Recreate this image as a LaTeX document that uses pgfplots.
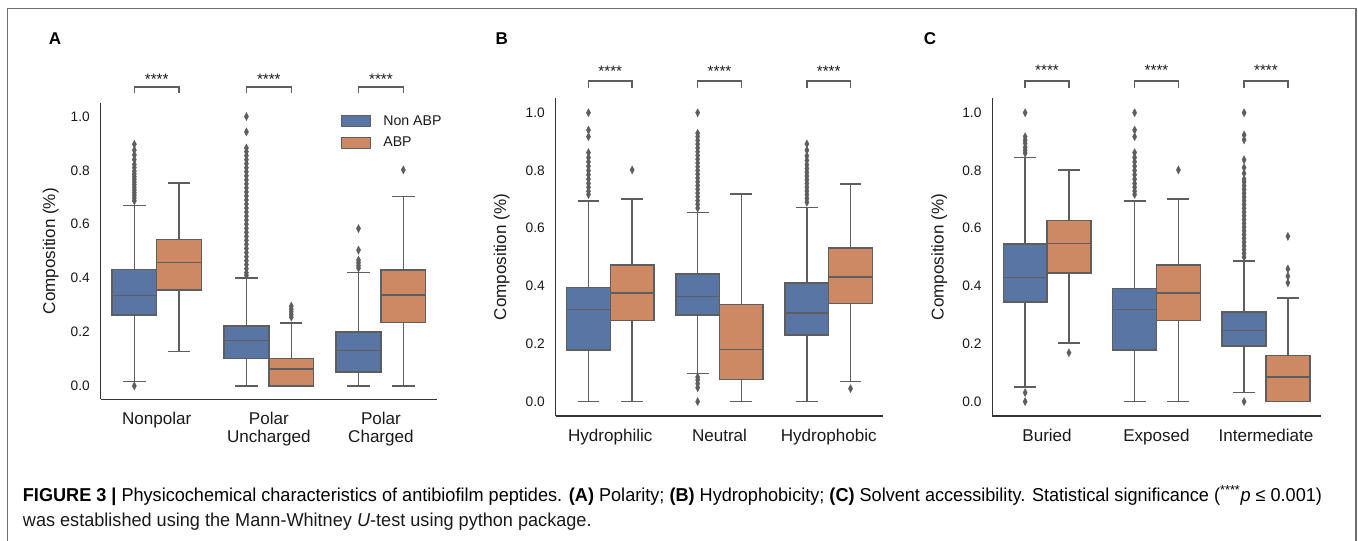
\documentclass[border=0pt]{standalone}
\usepackage{fontspec}
\setmainfont{Liberation Sans}
\usepackage{graphicx}
\usepackage{pgfplots}
\pgfplotsset{compat=1.18}
\usepgfplotslibrary{statistics}
\definecolor{sbblue}{HTML}{5975A4}
\definecolor{sborange}{HTML}{CC8963}
\definecolor{sbgray}{HTML}{5E5E5E}
\definecolor{spine}{HTML}{333333}
\definecolor{txt}{HTML}{1A1A1A}
\definecolor{frame}{HTML}{707070}

\tikzset{
  brk/.style={draw=sbgray, line width=1.1pt},
  stars/.style={font=\fontsize{11.4}{12}\selectfont, text=txt, anchor=base, inner sep=0pt},
}
\pgfplotsset{
  panel/.style={
    scale only axis,
    xmin=-0.5, xmax=2.5, ymin=-0.05, ymax=1.05,
    axis x line*=bottom, axis y line*=left,
    axis line style={-, draw=spine, line width=0.95pt},
    xtick={0,1,2}, ytick={0,0.2,0.4,0.6,0.8,1.0},
    major tick length=0pt,
    tick style={draw=none},
    yticklabel style={font=\fontsize{10.3}{12}\selectfont, text=txt, inner sep=0pt, xshift=-8pt,
       /pgf/number format/fixed, /pgf/number format/fixed zerofill,
       /pgf/number format/precision=1, /pgf/number format/assume math mode=true},
    xticklabel style={font=\fontsize{12.8}{13.7}\selectfont, text=txt, align=center, inner sep=0pt, yshift=-9.3pt},
    ylabel={Composition (\%)},
    ylabel style={font=\fontsize{12.8}{14}\selectfont, text=txt, anchor=center},
    clip=false,
    boxplot/every whisker/.style={draw=sbgray, line width=1.1pt, solid},
    boxplot/every median/.style={draw=sbgray, line width=1.1pt, solid},
    boxplot/every box/.style={draw=sbgray, line width=1.1pt, solid},
  },
  nab/.style={draw=sbgray, fill=sbblue, line width=1.1pt, solid, forget plot,
    mark=diamond*, mark size=3pt, mark options={fill=sbgray, draw=sbgray, xscale=0.7, line width=0.3pt}},
  ab/.style={draw=sbgray, fill=sborange, line width=1.1pt, solid, forget plot,
    mark=diamond*, mark size=3pt, mark options={fill=sbgray, draw=sbgray, xscale=0.7, line width=0.3pt}},
  sb/.style n args={6}{boxplot prepared={draw direction=y, draw position=#1, median=#2, lower quartile=#3,
    upper quartile=#4, lower whisker=#5, upper whisker=#6, box extend=0.4, whisker extend=0.2}},
}

\newsavebox\capone
\newdimen\capw
\begin{document}
\sbox\capone{\fontsize{14}{16}\selectfont\textbf{FIGURE 3 |} Physicochemical characteristics of antibiofilm peptides. \textbf{(A)} Polarity; \textbf{(B)} Hydrophobicity; \textbf{(C)} Solvent accessibility. Statistical significance (\textsuperscript{****}\textit{p} ≤ 0.001)}%
\capw=\wd\capone
\pgfmathsetmacro\capsc{974.25/\capw}%
\begin{tikzpicture}
\useasboundingbox (0pt,0pt) rectangle (1018.5pt,-405pt);
\draw[frame, line width=1.1pt] (5.5pt,-406pt) -- (5.5pt,-6.4pt) -- (1017pt,-6.4pt) -- (1017pt,-406pt);

% ---------------- Panel A ----------------
\begin{axis}[panel, at={(75.53pt,-299.48pt)}, anchor=south west, width=252.2pt, height=222.2pt,
  xticklabels={Nonpolar, Polar\\Uncharged, Polar\\Charged},
  ylabel style={at={(axis description cs:-0.1487,0.5)}},
  legend image code/.code={\draw[#1] (0pt,-4.1pt) rectangle (22pt,4.1pt);},
  legend style={at={(axis description cs:0.7137,0.9595)}, anchor=north west, draw=none, fill=none,
    inner sep=0pt, row sep=7.2pt, column sep=9pt, font=\fontsize{10.6}{12}\selectfont, text=txt,
    cells={anchor=west}, nodes={inner sep=0pt}},
]
\addlegendimage{fill=sbblue, draw=sbgray, line width=0.8pt}
\addlegendentry{Non ABP}
\addlegendimage{fill=sborange, draw=sbgray, line width=0.8pt}
\addlegendentry{ABP}
\addplot[nab, sb={-0.2}{0.336}{0.263}{0.432}{0.016}{0.670}] coordinates {(0,0.0) (0,0.687) (0,0.697) (0,0.707) (0,0.717) (0,0.727) (0,0.737) (0,0.747) (0,0.757) (0,0.767) (0,0.777) (0,0.787) (0,0.797) (0,0.81) (0,0.822) (0,0.84) (0,0.857) (0,0.875) (0,0.897)};
\addplot[ab, sb={0.2}{0.457}{0.356}{0.543}{0.127}{0.753}] coordinates {};
\addplot[nab, sb={0.8}{0.169}{0.101}{0.222}{0.0}{0.400}] coordinates {(0,0.41) (0,0.42) (0,0.435) (0,0.45) (0,0.465) (0,0.48) (0,0.495) (0,0.51) (0,0.525) (0,0.54) (0,0.555) (0,0.57) (0,0.585) (0,0.60) (0,0.615) (0,0.63) (0,0.645) (0,0.66) (0,0.675) (0,0.69) (0,0.705) (0,0.72) (0,0.735) (0,0.75) (0,0.765) (0,0.78) (0,0.795) (0,0.81) (0,0.825) (0,0.84) (0,0.855) (0,0.87) (0,0.883) (0,0.943) (0,1.0)};
\addplot[ab, sb={1.2}{0.062}{0.0}{0.101}{0.0}{0.233}] coordinates {(0,0.255) (0,0.265) (0,0.275) (0,0.285) (0,0.296)};
\addplot[nab, sb={1.8}{0.132}{0.052}{0.200}{0.0}{0.420}] coordinates {(0,0.437) (0,0.447) (0,0.457) (0,0.467) (0,0.504) (0,0.584)};
\addplot[ab, sb={2.2}{0.337}{0.235}{0.430}{0.0}{0.704}] coordinates {(0,0.802)};
\draw[brk] (axis cs:-0.2,1.087) -- (axis cs:-0.2,1.109) -- (axis cs:0.2,1.109) -- (axis cs:0.2,1.087);
\draw[brk] (axis cs:0.8,1.087) -- (axis cs:0.8,1.109) -- (axis cs:1.2,1.109) -- (axis cs:1.2,1.087);
\draw[brk] (axis cs:1.8,1.087) -- (axis cs:1.8,1.109) -- (axis cs:2.2,1.109) -- (axis cs:2.2,1.087);
\node[stars] at (axis cs:0,1.12) {****};
\node[stars] at (axis cs:1,1.12) {****};
\node[stars] at (axis cs:2,1.12) {****};
\end{axis}

% ---------------- Panel B ----------------
\begin{axis}[panel, at={(416.78pt,-312pt)}, anchor=south west, width=245.7pt, height=238.3pt,
  xticklabels={Hydrophilic, Neutral, Hydrophobic},
  ylabel style={at={(axis description cs:-0.1648,0.5)}},
]
\addplot[nab, sb={-0.2}{0.319}{0.178}{0.394}{0.0}{0.695}] coordinates {(0,0.717) (0,0.728) (0,0.742) (0,0.755) (0,0.77) (0,0.785) (0,0.80) (0,0.815) (0,0.83) (0,0.845) (0,0.862) (0,0.917) (0,0.94) (0,1.0)};
\addplot[ab, sb={0.2}{0.376}{0.281}{0.472}{0.0}{0.702}] coordinates {(0,0.802)};
\addplot[nab, sb={0.8}{0.364}{0.299}{0.442}{0.098}{0.655}] coordinates {(0,0.0) (0,0.048) (0,0.062) (0,0.075) (0,0.085) (0,0.67) (0,0.683) (0,0.696) (0,0.709) (0,0.722) (0,0.735) (0,0.748) (0,0.761) (0,0.774) (0,0.787) (0,0.80) (0,0.813) (0,0.826) (0,0.839) (0,0.852) (0,0.865) (0,0.878) (0,0.891) (0,0.904) (0,0.917) (0,0.929) (0,1.0)};
\addplot[ab, sb={1.2}{0.181}{0.077}{0.336}{0.0}{0.718}] coordinates {};
\addplot[nab, sb={1.8}{0.306}{0.230}{0.411}{0.0}{0.671}] coordinates {(0,0.69) (0,0.703) (0,0.716) (0,0.729) (0,0.742) (0,0.755) (0,0.768) (0,0.781) (0,0.794) (0,0.807) (0,0.82) (0,0.835) (0,0.85) (0,0.87) (0,0.892)};
\addplot[ab, sb={2.2}{0.432}{0.339}{0.532}{0.069}{0.754}] coordinates {(0,0.045)};
\draw[brk] (axis cs:-0.2,1.085) -- (axis cs:-0.2,1.110) -- (axis cs:0.2,1.110) -- (axis cs:0.2,1.085);
\draw[brk] (axis cs:0.8,1.085) -- (axis cs:0.8,1.110) -- (axis cs:1.2,1.110) -- (axis cs:1.2,1.085);
\draw[brk] (axis cs:1.8,1.085) -- (axis cs:1.8,1.110) -- (axis cs:2.2,1.110) -- (axis cs:2.2,1.085);
\node[stars] at (axis cs:0,1.124) {****};
\node[stars] at (axis cs:1,1.124) {****};
\node[stars] at (axis cs:2,1.124) {****};
\end{axis}

% ---------------- Panel C ----------------
\begin{axis}[panel, at={(744.23pt,-312pt)}, anchor=south west, width=246.3pt, height=238.3pt,
  xticklabels={Buried, Exposed, Intermediate},
  ylabel style={at={(axis description cs:-0.1614,0.5)}},
]
\addplot[nab, sb={-0.2}{0.430}{0.344}{0.545}{0.051}{0.845}] coordinates {(0,0.0) (0,0.031) (0,0.86) (0,0.87) (0,0.88) (0,0.895) (0,0.905) (0,0.917) (0,1.0)};
\addplot[ab, sb={0.2}{0.547}{0.445}{0.627}{0.203}{0.802}] coordinates {(0,0.169)};
\addplot[nab, sb={0.8}{0.319}{0.178}{0.392}{0.0}{0.695}] coordinates {(0,0.717) (0,0.728) (0,0.742) (0,0.755) (0,0.77) (0,0.785) (0,0.80) (0,0.815) (0,0.83) (0,0.845) (0,0.862) (0,0.917) (0,0.94) (0,1.0)};
\addplot[ab, sb={1.2}{0.376}{0.281}{0.472}{0.0}{0.702}] coordinates {(0,0.802)};
\addplot[nab, sb={1.8}{0.246}{0.192}{0.310}{0.031}{0.486}] coordinates {(0,0.0) (0,0.50) (0,0.513) (0,0.526) (0,0.539) (0,0.552) (0,0.565) (0,0.578) (0,0.591) (0,0.604) (0,0.617) (0,0.63) (0,0.643) (0,0.656) (0,0.669) (0,0.682) (0,0.695) (0,0.708) (0,0.721) (0,0.734) (0,0.747) (0,0.76) (0,0.77) (0,0.79) (0,0.81) (0,0.837) (0,0.906) (0,0.923) (0,1.0)};
\addplot[ab, sb={2.2}{0.085}{0.0}{0.160}{0.0}{0.359}] coordinates {(0,0.411) (0,0.434) (0,0.459) (0,0.572)};
\draw[brk] (axis cs:-0.2,1.085) -- (axis cs:-0.2,1.110) -- (axis cs:0.2,1.110) -- (axis cs:0.2,1.085);
\draw[brk] (axis cs:0.8,1.085) -- (axis cs:0.8,1.110) -- (axis cs:1.2,1.110) -- (axis cs:1.2,1.085);
\draw[brk] (axis cs:1.8,1.085) -- (axis cs:1.8,1.110) -- (axis cs:2.2,1.110) -- (axis cs:2.2,1.085);
\node[stars] at (axis cs:0,1.129) {****};
\node[stars] at (axis cs:1,1.129) {****};
\node[stars] at (axis cs:2,1.129) {****};
\end{axis}

% panel letters
\node[font=\bfseries\fontsize{12.8}{14}\selectfont, text=black] at (41.25pt,-29.25pt) {A};
\node[font=\bfseries\fontsize{12.8}{14}\selectfont, text=black] at (376.3pt,-29.25pt) {B};
\node[font=\bfseries\fontsize{12.8}{14}\selectfont, text=black] at (697.5pt,-29.25pt) {C};

% caption
\node[anchor=base west, inner sep=0pt, text=txt] at (17pt,-376.3pt) {\scalebox{\capsc}[1]{\usebox\capone}};
\node[anchor=base west, inner sep=0pt, text=txt] at (17pt,-394.5pt) {\scalebox{\capsc}[1]{\fontsize{14}{16}\selectfont was established using the Mann-Whitney \textit{U}-test using python package.}};
\end{tikzpicture}
\end{document}
